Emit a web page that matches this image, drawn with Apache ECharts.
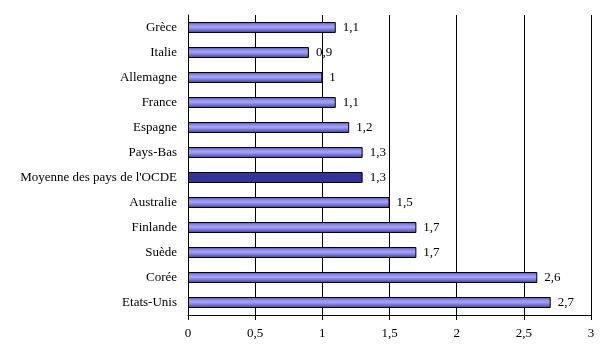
<!DOCTYPE html>
<html><head><meta charset="utf-8">
<script src="https://cdn.jsdelivr.net/npm/echarts@6/dist/echarts.min.js"></script>
<style>html,body{margin:0;padding:0;background:#fff}#c{width:614px;height:359px}</style>
</head><body><div id="c"></div>
<script>
const categories = ["Grèce","Italie","Allemagne","France","Espagne","Pays-Bas","Moyenne des pays de l'OCDE","Australie","Finlande","Suède","Corée","Etats-Unis"];
const values = [1.1,0.9,1,1.1,1.2,1.3,1.3,1.5,1.7,1.7,2.6,2.7];
const highlight = "Moyenne des pays de l'OCDE";
const xTicks = [0,0.5,1,1.5,2,2.5,3];

const font = "'Liberation Serif','Times New Roman',serif";
const grad = {type:'linear',x:0,y:0,x2:0,y2:1,colorStops:[
  {offset:0,color:'#4a4a9c'},{offset:0.25,color:'#8a8af0'},{offset:0.45,color:'#a6a6ff'},
  {offset:0.7,color:'#7878d8'},{offset:1,color:'#3c3c84'}]};
const data = values.map((v,i)=>({value:v,itemStyle:categories[i]===highlight?{color:'#333399'}:{color:grad}}));
const chart = echarts.init(document.getElementById('c'),null,{renderer:'canvas'});
chart.setOption({
  animation:false,
  backgroundColor:'#fff',
  grid:{left:188,right:23,top:15,bottom:44,containLabel:false},
  xAxis:{type:'value',min:xTicks[0],max:xTicks[xTicks.length-1],interval:0.5,
    axisLine:{show:true,lineStyle:{color:'#000',width:1}},
    axisTick:{show:true,length:5,lineStyle:{color:'#000'}},
    axisLabel:{color:'#000',fontFamily:font,fontSize:13,margin:12,formatter:v=>String(v).replace('.',',')},
    splitLine:{show:true,lineStyle:{color:'#000',width:1}}},
  yAxis:{type:'category',data:categories,inverse:true,
    axisLine:{show:true,lineStyle:{color:'#000',width:1}},
    axisTick:{show:false},
    axisLabel:{color:'#000',fontFamily:font,fontSize:13,margin:11}},
  series:[{type:'bar',data:data,barWidth:11,
    itemStyle:{borderColor:'#000',borderWidth:1},
    label:{show:true,position:'right',distance:7,color:'#000',fontFamily:font,fontSize:13,
      formatter:p=>String(p.value).replace('.',',')}}]
});
</script></body></html>
